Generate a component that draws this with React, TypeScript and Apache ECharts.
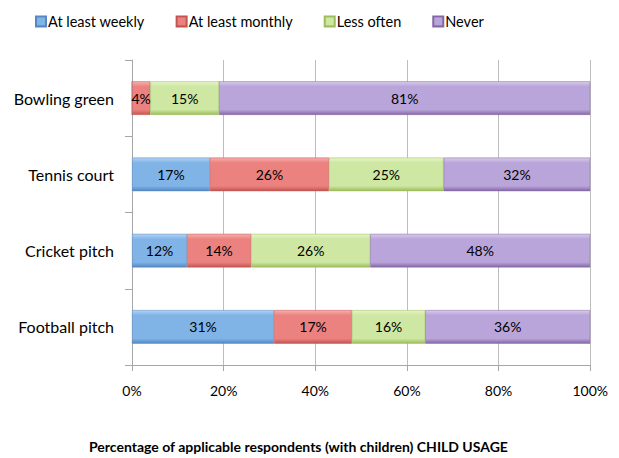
import React, { useEffect, useRef } from "react";
import * as echarts from "echarts";

const categories = ["Football pitch", "Cricket pitch", "Tennis court", "Bowling green"];
const seriesNames = ["At least weekly", "At least monthly", "Less often", "Never"];
const weekly = [31, 12, 17, 0];
const monthly = [17, 14, 26, 4];
const lessOften = [16, 26, 25, 15];
const never = [36, 48, 32, 81];
const xTicks = [0, 20, 40, 60, 80, 100];

const FONT = "Lato";

const palettes = [
  ["#b3d4f3", "#80b3e6", "#5488c2"],
  ["#f6b0ae", "#ec827f", "#c25552"],
  ["#e6f4c9", "#cee7a2", "#9dbc5d"],
  ["#d8cbeb", "#b9a5d9", "#8468a6"],
];

function barFill(p: string[]) {
  return new echarts.graphic.LinearGradient(0, 0, 0, 1, [
    { offset: 0, color: p[0] },
    { offset: 0.15, color: p[1] },
    { offset: 0.85, color: p[1] },
    { offset: 1, color: p[2] },
  ]);
}

export default function App() {
  const ref = useRef<HTMLDivElement>(null);
  useEffect(() => {
    if (!ref.current) return;
    const chart = echarts.init(ref.current, null, { renderer: "svg" });
    const data = [weekly, monthly, lessOften, never];
    chart.setOption({
      animation: false,
      textStyle: { fontFamily: FONT, color: "#000" },
      legend: {
        top: 1,
        left: 22,
        itemWidth: 10,
        itemHeight: 10,
        itemGap: 31,
        icon: "rect",
        textStyle: { fontFamily: FONT, fontSize: 14.5, color: "#000", padding: [0, 0, 0, -3] },
        data: seriesNames,
      },
      grid: { left: 124, right: 11, top: 52, bottom: 93, containLabel: false },
      xAxis: {
        type: "value",
        min: 0,
        max: 100,
        interval: 20,
        axisLine: { show: true, lineStyle: { color: "#a6a6a6" } },
        axisTick: { show: true, length: 6, lineStyle: { color: "#a6a6a6" } },
        splitLine: { show: true, lineStyle: { color: "#bdbdbd" } },
        axisLabel: {
          margin: 18,
          fontFamily: FONT,
          fontSize: 14,
          color: "#000",
          formatter: (v: number) => (xTicks.includes(v) ? v + "%" : ""),
        },
      },
      yAxis: {
        type: "category",
        data: categories,
        axisLine: { show: true, lineStyle: { color: "#a6a6a6" } },
        axisTick: { show: true, length: 7, lineStyle: { color: "#a6a6a6" } },
        axisLabel: { margin: 18, fontFamily: FONT, fontSize: 16, color: "#000" },
      },
      title: {
        text: "Percentage of applicable respondents (with children) CHILD USAGE",
        left: 76,
        top: 426,
        textStyle: { fontFamily: FONT, fontSize: 14, fontWeight: "bold", color: "#000" },
      },
      series: data.map((d, i) => ({
        name: seriesNames[i],
        type: "bar",
        stack: "total",
        barCategoryGap: "56%",
        data: d,
        itemStyle: {
          color: barFill(palettes[i]),
          borderColor: palettes[i][2],
          borderWidth: 0.5,
        },
        label: {
          show: true,
          position: "inside",
          fontFamily: FONT,
          fontSize: 14,
          color: "#000",
          formatter: (p: any) => (p.value > 0 ? p.value + "%" : ""),
        },
      })),
    });
    return () => chart.dispose();
  }, []);
  return <div ref={ref} style={{ width: 603, height: 450 }} />;
}
